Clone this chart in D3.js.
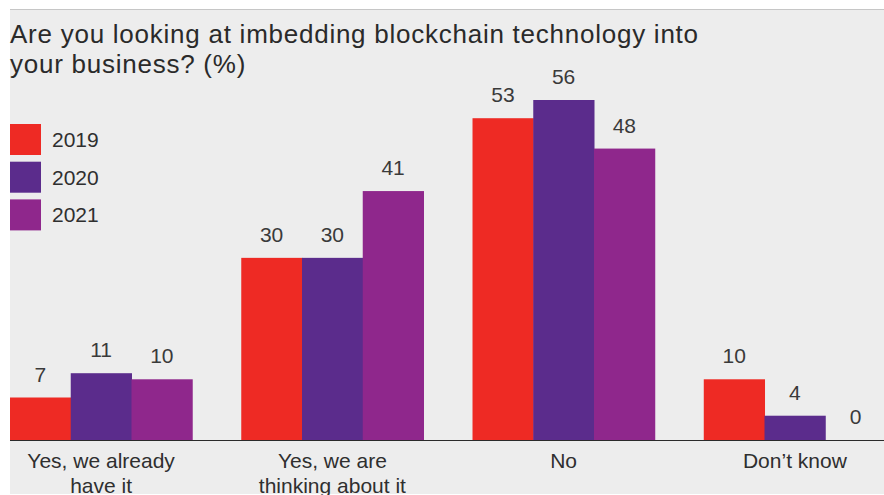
<!DOCTYPE html>
<html>
<head>
<meta charset="utf-8">
<script src="https://cdn.jsdelivr.net/npm/d3@7"></script>
<style>
  html, body { margin: 0; padding: 0; background: #ffffff; }
  svg { display: block; }
  text { font-family: "Liberation Sans", Arial, Helvetica, sans-serif; }
</style>
</head>
<body>
<svg id="chart" width="884" height="495"></svg>
<script>
// Survey answers, percent of respondents per year
const categories = [["Yes, we already", "have it"], ["Yes, we are", "thinking about it"], ["No"], ["Don\u2019t know"]];
const years = ["2019", "2020", "2021"];
const values2019 = [7, 30, 53, 10];
const values2020 = [11, 30, 56, 4];
const values2021 = [10, 41, 48, 0];
const seriesColors = ["#ee2a24", "#5b2c8c", "#8f278c"];

const series = [values2019, values2020, values2021];

const width = 884, height = 495;
const svg = d3.select("#chart");

// Panel background and top rule
svg.append("rect")
  .attr("x", 10).attr("y", 9)
  .attr("width", width - 10).attr("height", height - 10)
  .attr("fill", "#ededed");
svg.append("line")
  .attr("x1", 10).attr("x2", width)
  .attr("y1", 9.5).attr("y2", 9.5)
  .attr("stroke", "#c6c6c6").attr("stroke-width", 1);

// Title
const title = svg.append("text")
  .attr("x", 10).attr("y", 43)
  .attr("font-size", 26)
  .attr("letter-spacing", 0.75)
  .attr("fill", "#2a2a2a");
title.append("tspan").attr("x", 10).attr("dy", 0)
  .text("Are you looking at imbedding blockchain technology into");
title.append("tspan").attr("x", 10).attr("dy", 30)
  .text("your business? (%)");

// Scales
const x0 = d3.scaleBand()
  .domain(d3.range(categories.length))
  .range([10, 886])
  .paddingInner(0.212)
  .paddingOuter(0);
const x1 = d3.scaleBand()
  .domain(d3.range(years.length))
  .range([0, x0.bandwidth()])
  .padding(0);
const y = d3.scaleLinear()
  .domain([0, 56])
  .range([440, 100]);

// Bars and value labels
const groups = svg.append("g").selectAll("g")
  .data(categories.map((c, i) => i))
  .join("g")
  .attr("transform", i => `translate(${x0(i)},0)`);

groups.selectAll("rect")
  .data(i => series.map((s, k) => ({ k, v: s[i] })))
  .join("rect")
  .attr("x", d => x1(d.k))
  .attr("y", d => y(d.v))
  .attr("width", x1.bandwidth() + 0.5)
  .attr("height", d => y(0) - y(d.v))
  .attr("fill", d => seriesColors[d.k]);

groups.selectAll("text.value")
  .data(i => series.map((s, k) => ({ k, v: s[i] })))
  .join("text")
  .attr("class", "value")
  .attr("x", d => x1(d.k) + x1.bandwidth() / 2)
  .attr("y", d => y(d.v) - 16)
  .attr("text-anchor", "middle")
  .attr("font-size", 21)
  .attr("fill", "#3a3a3a")
  .text(d => d.v);

// Baseline axis
svg.append("line")
  .attr("x1", 10).attr("x2", width)
  .attr("y1", y(0) + 0.5).attr("y2", y(0) + 0.5)
  .attr("stroke", "#2b2b2b").attr("stroke-width", 1.2);

// Category labels
const catLabels = svg.append("g").selectAll("text")
  .data(categories)
  .join("text")
  .attr("text-anchor", "middle")
  .attr("font-size", 21)
  .attr("fill", "#2f2f2f")
  .attr("y", 468);
catLabels.each(function (lines, i) {
  const cx = x0(i) + x0.bandwidth() / 2;
  d3.select(this).selectAll("tspan")
    .data(lines)
    .join("tspan")
    .attr("x", cx)
    .attr("dy", (d, j) => j === 0 ? 0 : 25)
    .text(d => d);
});

// Legend
const legend = svg.append("g").selectAll("g")
  .data(years)
  .join("g")
  .attr("transform", (d, i) => `translate(10,${124 + i * 37.7})`);
legend.append("rect")
  .attr("width", 31).attr("height", 31)
  .attr("fill", (d, i) => seriesColors[i]);
legend.append("text")
  .attr("x", 42).attr("y", 23)
  .attr("font-size", 21)
  .attr("fill", "#2f2f2f")
  .text(d => d);
</script>
</body>
</html>
